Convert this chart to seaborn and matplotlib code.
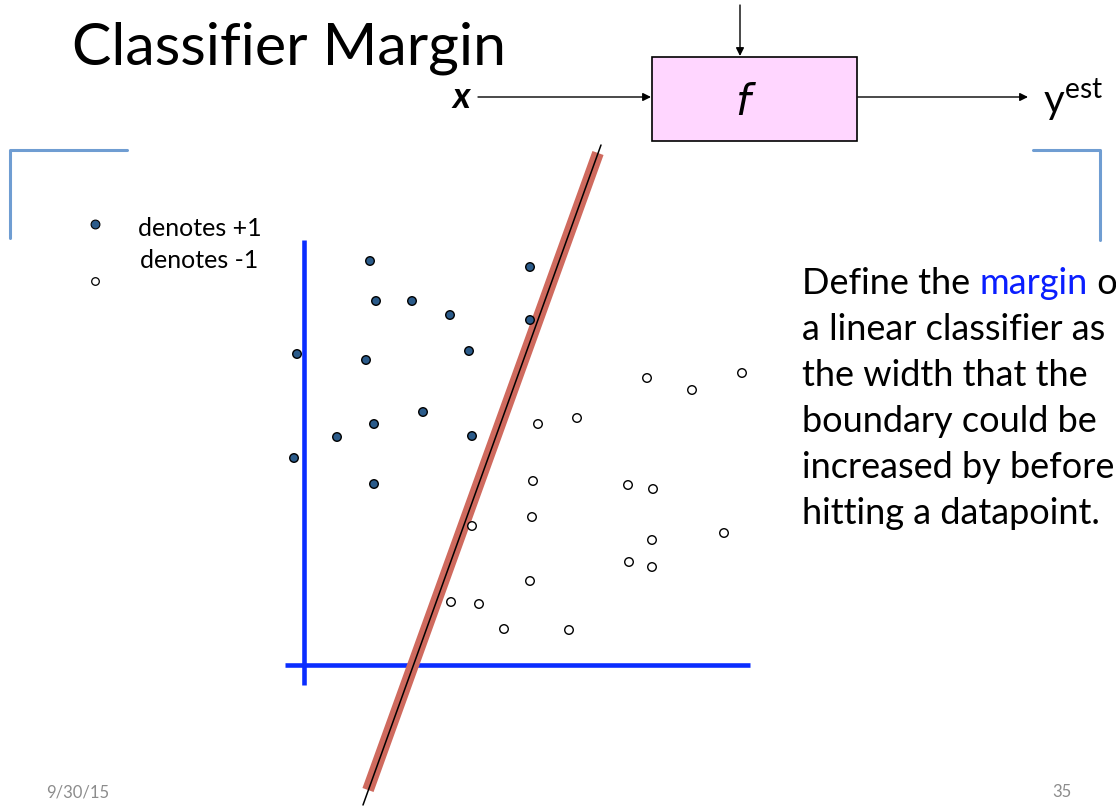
import matplotlib
matplotlib.use("Agg")
import matplotlib.pyplot as plt
import pandas as pd
import seaborn as sns
from matplotlib.patches import Rectangle

# points (pixel-like coordinates, y grows downward)
plusX = [370, 530, 376, 412, 450, 530, 297, 366, 469, 423, 374, 337, 472, 294, 374]
plusY = [261, 267, 301, 301, 315, 320, 354, 360, 351, 412, 424, 437, 436, 458, 484]
minusX = [647, 692, 742, 538, 577, 533, 628, 653, 532, 472, 652, 724, 629, 652, 530, 451, 479, 504, 569]
minusY = [378, 390, 373, 424, 418, 481, 485, 489, 517, 526, 540, 533, 562, 567, 581, 602, 604, 629, 630]

# decision boundary end points
boundaryX = [601, 363]
boundaryY = [145, 805]
bandX = [598, 368]
bandY = [153, 790]

# axes of the sketch
vAxisX = [304, 304]
vAxisY = [240, 685]
hAxisX = [285, 750]
hAxisY = [665, 665]

titleText = "Classifier Margin"
legendLabels = ["denotes +1", "denotes -1"]
bodyLines = ["a linear classifier as", "the width that the", "boundary could be",
             "increased by before", "hitting a datapoint."]
footerDate = "9/30/15"
footerPage = "35"

sns.set_theme(style="white")
plt.rcParams["font.family"] = ["Lato", "DejaVu Sans"]
plt.rcParams["text.color"] = "black"

fig = plt.figure(figsize=(11.16, 8.08), dpi=100)
ax = fig.add_axes([0, 0, 1, 1])
ax.set_xlim(0, 1116)
ax.set_ylim(808, 0)
ax.axis("off")

pointFrame = pd.DataFrame({
    "x": plusX + minusX,
    "y": plusY + minusY,
    "label": ["+1"] * len(plusX) + ["-1"] * len(minusX),
})

# blue sketch axes
axisBlue = "#0A2DFF"
ax.plot(vAxisX, vAxisY, color=axisBlue, lw=3.3, solid_capstyle="butt", zorder=2)
ax.plot(hAxisX, hAxisY, color=axisBlue, lw=3.3, solid_capstyle="butt", zorder=2)

# boundary with its red band
ax.plot(bandX, bandY, color="#CF6A5E", lw=8.5, solid_capstyle="butt", zorder=3)
ax.plot(boundaryX, boundaryY, color="black", lw=1.1, zorder=4)

sns.scatterplot(data=pointFrame, x="x", y="y", hue="label",
                palette={"+1": "#2B5B8A", "-1": "white"},
                edgecolor="black", linewidth=1.0, s=38, legend=False,
                ax=ax, zorder=5)

# legend drawn like the slide
ax.scatter([95], [224], s=40, color="#2B5B8A", edgecolor="black", linewidth=0.8, zorder=5)
ax.scatter([95], [281], s=30, color="white", edgecolor="black", linewidth=0.9, zorder=5)
ax.text(138, 228, legendLabels[0], fontsize=18, va="center", ha="left")
ax.text(140, 261, legendLabels[1], fontsize=18, va="center", ha="left")

# title
ax.text(72, 48, titleText, fontsize=42.5, va="center", ha="left")

# f box diagram
ax.add_patch(Rectangle((652, 57), 205, 84, facecolor="#FFD6FF", edgecolor="black", lw=1.2, zorder=2))
ax.text(742, 103, "f", fontsize=30, style="italic", ha="center", va="center",
        family=["DejaVu Sans"])
arrowStyle = dict(arrowstyle="-|>", color="black", lw=1.0, mutation_scale=12, shrinkA=0, shrinkB=0)
ax.annotate("", xy=(740, 56), xytext=(740, 5), arrowprops=arrowStyle)
ax.annotate("", xy=(651, 97), xytext=(478, 97), arrowprops=arrowStyle)
ax.annotate("", xy=(1028, 97), xytext=(858, 97), arrowprops=arrowStyle)
ax.text(461, 97, "x", fontsize=26, fontweight="bold", style="italic", ha="center", va="center")
ax.text(1043, 100, r"y$^{\mathregular{est}}$", fontsize=29, ha="left", va="center")

# corner brackets
bracketBlue = "#6F9DD2"
ax.plot([10, 10, 127], [238, 150, 150], color=bracketBlue, lw=2.2)
ax.plot([1033, 1100, 1100], [150, 150, 240], color=bracketBlue, lw=2.2)

# right hand explanation
bodySize = 26
firstPart = ax.text(802, 283, "Define the ", fontsize=bodySize, va="center", ha="left")
bluePart = ax.annotate("margin", xy=(1, 0), xycoords=firstPart, va="bottom", ha="left",
                       fontsize=bodySize, color="#0A1EFF")
ax.annotate(" of", xy=(1, 0), xycoords=bluePart, va="bottom", ha="left", fontsize=bodySize)
for lineIndex, lineText in enumerate(bodyLines) :
    ax.text(802, 329 + 46 * lineIndex, lineText, fontsize=bodySize, va="center", ha="left")

# footer
ax.text(78, 792, footerDate, fontsize=12, color="#8C8C8C", ha="center", va="center")
ax.text(1062, 792, footerPage, fontsize=12, color="#8C8C8C", ha="center", va="center")

fig.savefig("out.png", dpi=100)
